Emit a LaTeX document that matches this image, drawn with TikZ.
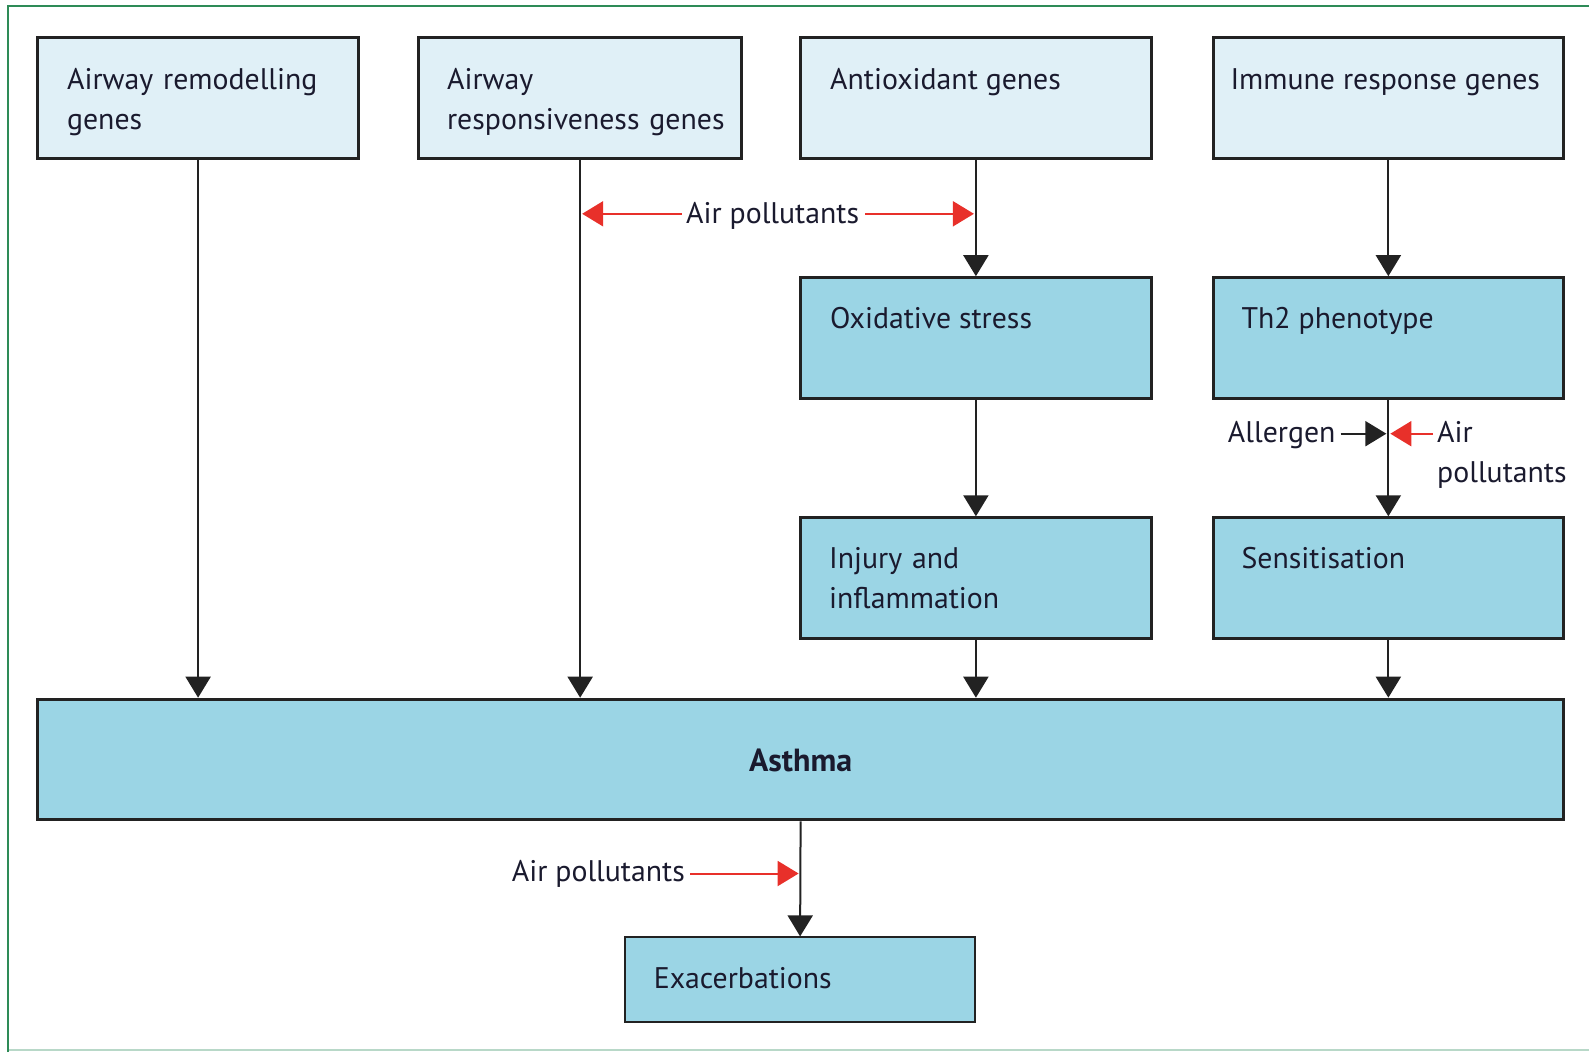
\documentclass[tikz,border=0pt]{standalone}
\usepackage{fontspec}
\setmainfont{PT Sans}
\usetikzlibrary{arrows.meta,calc}
\definecolor{pale}{HTML}{E0F0F7}
\definecolor{mid}{HTML}{9BD5E5}
\definecolor{edge}{HTML}{222222}
\definecolor{ink}{HTML}{1A1A2E}
\definecolor{redarrow}{HTML}{E8302A}
\definecolor{frame}{HTML}{2E8B57}
\definecolor{framelight}{HTML}{B8D8C8}
\tikzset{
  boxbase/.style={draw=edge, line width=3pt, rectangle, inner sep=0pt},
  palebox/.style={boxbase, fill=pale},
  midbox/.style={boxbase, fill=mid},
  txt/.style={inner sep=0pt, text=ink, font=\fontsize{29.8}{40}\selectfont, anchor=base west},
  txtml/.style={txt, text width=330pt, align=left},
  conn/.style={draw=edge, line width=2pt, -{Triangle[length=21pt,width=25pt]}},
  redconn/.style={draw=redarrow, line width=2pt, -{Triangle[length=21pt,width=25pt]}},
}
\begin{document}
\begin{tikzpicture}[x=1pt,y=-1pt]
\useasboundingbox (0,0) rectangle (1589,1052);
% frame
\draw[framelight, line width=2pt] (8,1050) -- (1589,1050);
\draw[frame, line width=2pt] (8,1052) -- (8,6) -- (1589,6);

% boxes
\node[palebox, minimum width=321.2pt, minimum height=120.5pt] (b1) at (198.1,97.75) {};
\node[palebox, minimum width=323.3pt, minimum height=120.5pt] (b2) at (580.15,97.75) {};
\node[palebox, minimum width=350.6pt, minimum height=120.5pt] (b3) at (975.9,97.75) {};
\node[palebox, minimum width=350.7pt, minimum height=120.5pt] (b4) at (1388.35,97.75) {};
\node[midbox, minimum width=350.6pt, minimum height=120.6pt] (ox) at (975.9,338) {};
\node[midbox, minimum width=350.7pt, minimum height=120.6pt] (th2) at (1388.35,338) {};
\node[midbox, minimum width=350.6pt, minimum height=120.6pt] (inj) at (975.9,578.1) {};
\node[midbox, minimum width=350.7pt, minimum height=120.6pt] (sens) at (1388.35,578.1) {};
\node[midbox, minimum width=1526.2pt, minimum height=120.6pt] (asthma) at (800.6,759.5) {};
\node[midbox, line width=2pt, minimum width=349.6pt, minimum height=84.1pt] (exa) at (800.1,979.45) {};

% texts
\node[txtml] (t1) at (66.9,89.3) {Airway remodelling\\genes};
\node[txtml] (t2) at (446.9,89.3) {Airway\\responsiveness genes};
\node[txt] (t3) at (830,89.3) {Antioxidant genes};
\node[txt] (t4) at (1230.3,89.3) {Immune response genes};
\node[txt] (t5) at (830,328.7) {Oxidative stress};
\node[txt] (t6) at (1241.4,328.7) {Th2 phenotype};
\node[txtml] (t7) at (829,568.8) {Injury and\\inflammation};
\node[txt] (t8) at (1241.4,568.8) {Sensitisation};
\node[txt, anchor=base, font=\fontsize{32}{40}\selectfont\bfseries] (t9) at (800.6,771.2) {Asthma};
\node[txt] (t10) at (653.6,988) {Exacerbations};

% connectors
\draw[conn] (b1.south) -- (b1.south |- asthma.north);
\draw[conn] (b2.south) -- (b2.south |- asthma.north);
\draw[conn] (b3.south) -- (ox.north);
\draw[conn] (ox.south) -- (inj.north);
\draw[conn] (inj.south) -- (inj.south |- asthma.north);
\draw[conn] (b4.south) -- (th2.north);
\draw[conn] (th2.south) -- (sens.north);
\draw[conn] (sens.south) -- (sens.south |- asthma.north);
\draw[conn] (asthma.south) -- (exa.north);

% air pollutants (top)
\coordinate (apy) at (0,213.8);
\node[txt, anchor=base] (ap1) at (772.6,223) {Air pollutants};
\draw[redconn] ([xshift=-4pt]ap1.west |- apy) -- ([xshift=2pt]b2.south |- apy);
\draw[redconn] ([xshift=6pt]ap1.east |- apy) -- ([xshift=-2pt]b3.south |- apy);

% allergen & air pollutants (right)
\coordinate (aly) at (0,433.7);
\node[txt, anchor=base east] (allg) at (1335.7,442.9) {Allergen};
\node[txtml, text width=150pt] (ap2) at (1437,442.9) {Air\\pollutants};
\draw[conn] ([xshift=5pt]allg.east |- aly) -- ([xshift=-2pt]th2.south |- aly);
\draw[redconn] ([xshift=-4pt]ap2.west |- aly) -- ([xshift=2pt]th2.south |- aly);

% air pollutants (bottom)
\coordinate (bly) at (0,873.5);
\node[txt, anchor=base east] (ap3) at (685,881.6) {Air pollutants};
\draw[redconn] ([xshift=5pt]ap3.east |- bly) -- ([xshift=-2pt]asthma.south |- bly);
\end{tikzpicture}
\end{document}
